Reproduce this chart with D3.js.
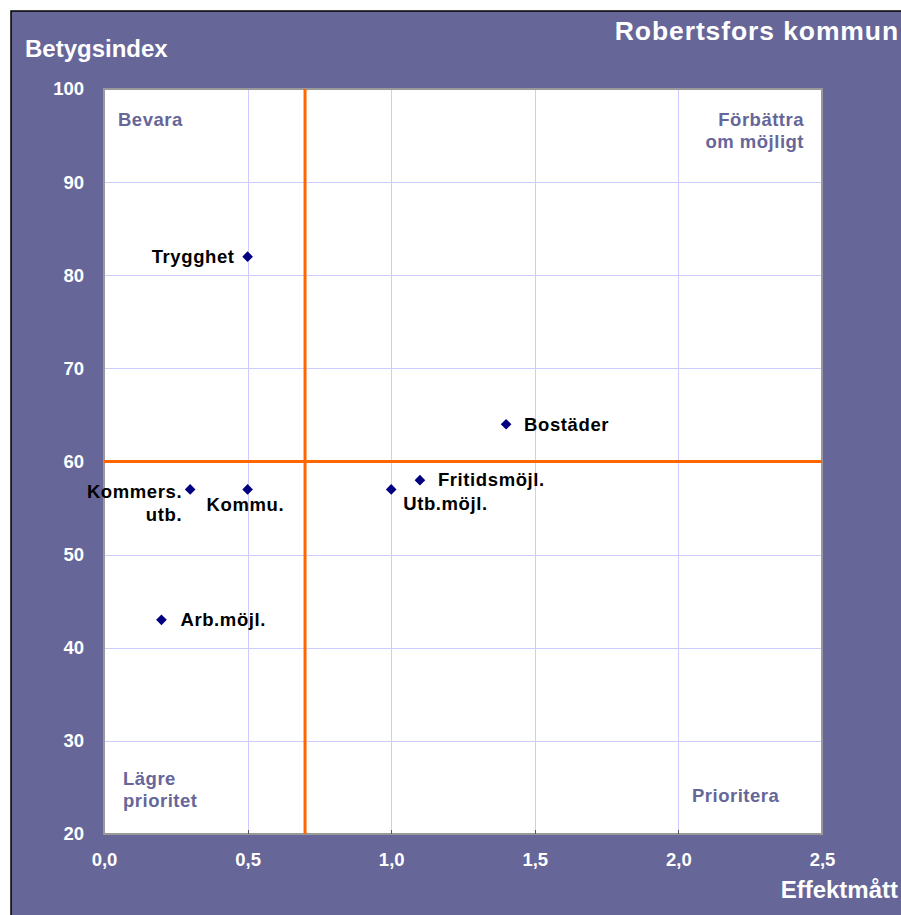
<!DOCTYPE html>
<html>
<head>
<meta charset="utf-8">
<script src="https://cdn.jsdelivr.net/npm/d3@7"></script>
<style>
  body { margin: 0; background: #fff; }
  svg { display: block; font-family: Arial, "Liberation Sans", sans-serif; font-weight: bold; }
</style>
</head>
<body>
<div id="container"></div>
<script>
// data
const names = ["Trygghet", "Bostäder", "Fritidsmöjl.", "Utb.möjl.", "Kommu.", "Kommers. utb.", "Arb.möjl."];
const effekt = [0.5, 1.4, 1.1, 1.0, 0.5, 0.3, 0.2];
const betyg = [82, 64, 58, 57, 57, 57, 43];
const xTicks = [0, 0.5, 1.0, 1.5, 2.0, 2.5];
const yTicks = [20, 30, 40, 50, 60, 70, 80, 90, 100];
const xCut = 0.7, yCut = 60;

document.addEventListener("DOMContentLoaded", function() {
  const width = 901, height = 915;
  const purple = "#666699";
  const plot = { left: 104, right: 822, top: 89, bottom: 834 };

  const x = d3.scaleLinear().domain([0, 2.5]).range([plot.left, plot.right]);
  const y = d3.scaleLinear().domain([20, 100]).range([plot.bottom, plot.top]);

  const svg = d3.select("#container").append("svg")
      .attr("width", width)
      .attr("height", height);

  // frame
  svg.append("rect")
      .attr("x", 11).attr("y", 11)
      .attr("width", width).attr("height", height)
      .attr("fill", purple)
      .attr("stroke", "#000").attr("stroke-width", 1.5);

  // plot area
  svg.append("rect")
      .attr("x", plot.left).attr("y", plot.top)
      .attr("width", plot.right - plot.left).attr("height", plot.bottom - plot.top)
      .attr("fill", "#fff");

  // gridlines
  const grid = svg.append("g").attr("stroke", "#ccccff").attr("stroke-width", 1);
  grid.selectAll("line.v")
    .data(xTicks.slice(1, -1))
    .join("line")
      .attr("x1", d => Math.round(x(d)) + 0.5).attr("x2", d => Math.round(x(d)) + 0.5)
      .attr("y1", plot.top).attr("y2", plot.bottom);
  grid.selectAll("line.h")
    .data(yTicks.slice(1, -1))
    .join("line")
      .attr("y1", d => Math.round(y(d)) + 0.5).attr("y2", d => Math.round(y(d)) + 0.5)
      .attr("x1", plot.left).attr("x2", plot.right);

  // plot border (gray)
  svg.append("rect")
      .attr("x", plot.left).attr("y", plot.top)
      .attr("width", plot.right - plot.left).attr("height", plot.bottom - plot.top)
      .attr("fill", "none")
      .attr("stroke", "#999").attr("stroke-width", 2);

  // axes
  const fmt = d3.format(".1f");
  const xAxis = svg.append("g")
      .attr("transform", `translate(0,${plot.bottom})`)
      .call(d3.axisBottom(x).tickValues(xTicks).tickSize(0)
        .tickFormat(d => fmt(d).replace(".", ",")));
  const yAxis = svg.append("g")
      .attr("transform", `translate(${plot.left},0)`)
      .call(d3.axisLeft(y).tickValues(yTicks).tickSize(0).tickPadding(20));
  [xAxis, yAxis].forEach(a => {
    a.select(".domain").remove();
    a.selectAll("text")
      .attr("fill", "#fff")
      .attr("font-size", 18.5)
      .attr("font-weight", "bold")
      .attr("font-family", "Arial, 'Liberation Sans', sans-serif");
  });
  xAxis.selectAll("text").attr("y", 32).attr("dy", 0);

  // small tick marks on bottom at gridlines
  svg.append("g").attr("stroke", "#555")
    .selectAll("line")
    .data(xTicks.slice(1, -1))
    .join("line")
      .attr("x1", d => Math.round(x(d)) + 0.5).attr("x2", d => Math.round(x(d)) + 0.5)
      .attr("y1", plot.bottom - 4).attr("y2", plot.bottom);

  // orange cut lines
  svg.append("line")
      .attr("x1", x(xCut)).attr("x2", x(xCut))
      .attr("y1", plot.top).attr("y2", plot.bottom)
      .attr("stroke", "#ff6600").attr("stroke-width", 3);
  svg.append("line")
      .attr("x1", plot.left).attr("x2", plot.right)
      .attr("y1", y(yCut)).attr("y2", y(yCut))
      .attr("stroke", "#ff6600").attr("stroke-width", 3);

  // titles
  svg.append("text").attr("x", 899).attr("y", 40)
      .attr("text-anchor", "end").attr("fill", "#fff").attr("font-size", 26.5)
      .attr("letter-spacing", 0.9)
      .text("Robertsfors kommun");
  svg.append("text").attr("x", 25).attr("y", 57)
      .attr("fill", "#fff").attr("font-size", 24)
      .text("Betygsindex");
  svg.append("text").attr("x", 898).attr("y", 898)
      .attr("text-anchor", "end").attr("fill", "#fff").attr("font-size", 24)
      .text("Effektmått");

  // quadrant labels
  const quad = [
    { lines: ["Bevara"], x: 118, y: 126, anchor: "start" },
    { lines: ["Förbättra", "om möjligt"], x: 804, y: 126, anchor: "end" },
    { lines: ["Lägre", "prioritet"], x: 123, y: 785, anchor: "start" },
    { lines: ["Prioritera"], x: 692, y: 802, anchor: "start" }
  ];
  quad.forEach(q => {
    const t = svg.append("text").attr("fill", purple).attr("font-size", 18.5)
        .attr("letter-spacing", 0.5)
        .attr("text-anchor", q.anchor);
    q.lines.forEach((l, i) => t.append("tspan").attr("x", q.x).attr("y", q.y + i * 22).text(l));
  });

  // points
  const points = names.map((n, i) => ({ name: n, x: effekt[i], y: betyg[i] }));
  const diamond = d3.symbol().type(d3.symbolDiamond2).size(72);
  svg.append("g").selectAll("path")
    .data(points)
    .join("path")
      .attr("d", diamond)
      .attr("transform", d => `translate(${x(d.x)},${y(d.y)})`)
      .attr("fill", "#000080");

  // label placement relative to the point
  const place = {
    "Trygghet": { dx: -13, dy: 6, anchor: "end" },
    "Bostäder": { dx: 18, dy: 7, anchor: "start" },
    "Fritidsmöjl.": { dx: 18, dy: 6, anchor: "start" },
    "Utb.möjl.": { dx: 12, dy: 21, anchor: "start" },
    "Kommu.": { dx: -41, dy: 22, anchor: "start" },
    "Kommers. utb.": { dx: -8, dy: 9, anchor: "end", split: true },
    "Arb.möjl.": { dx: 19, dy: 6, anchor: "start" }
  };
  points.forEach(p => {
    const pl = place[p.name];
    const t = svg.append("text").attr("fill", "#000").attr("font-size", 18.5)
        .attr("letter-spacing", 0.6)
        .attr("text-anchor", pl.anchor);
    const lines = pl.split ? p.name.split(" ") : [p.name];
    lines.forEach((l, i) => t.append("tspan")
        .attr("x", x(p.x) + pl.dx).attr("y", y(p.y) + pl.dy + i * 23).text(l));
  });
});
</script>
</body>
</html>
